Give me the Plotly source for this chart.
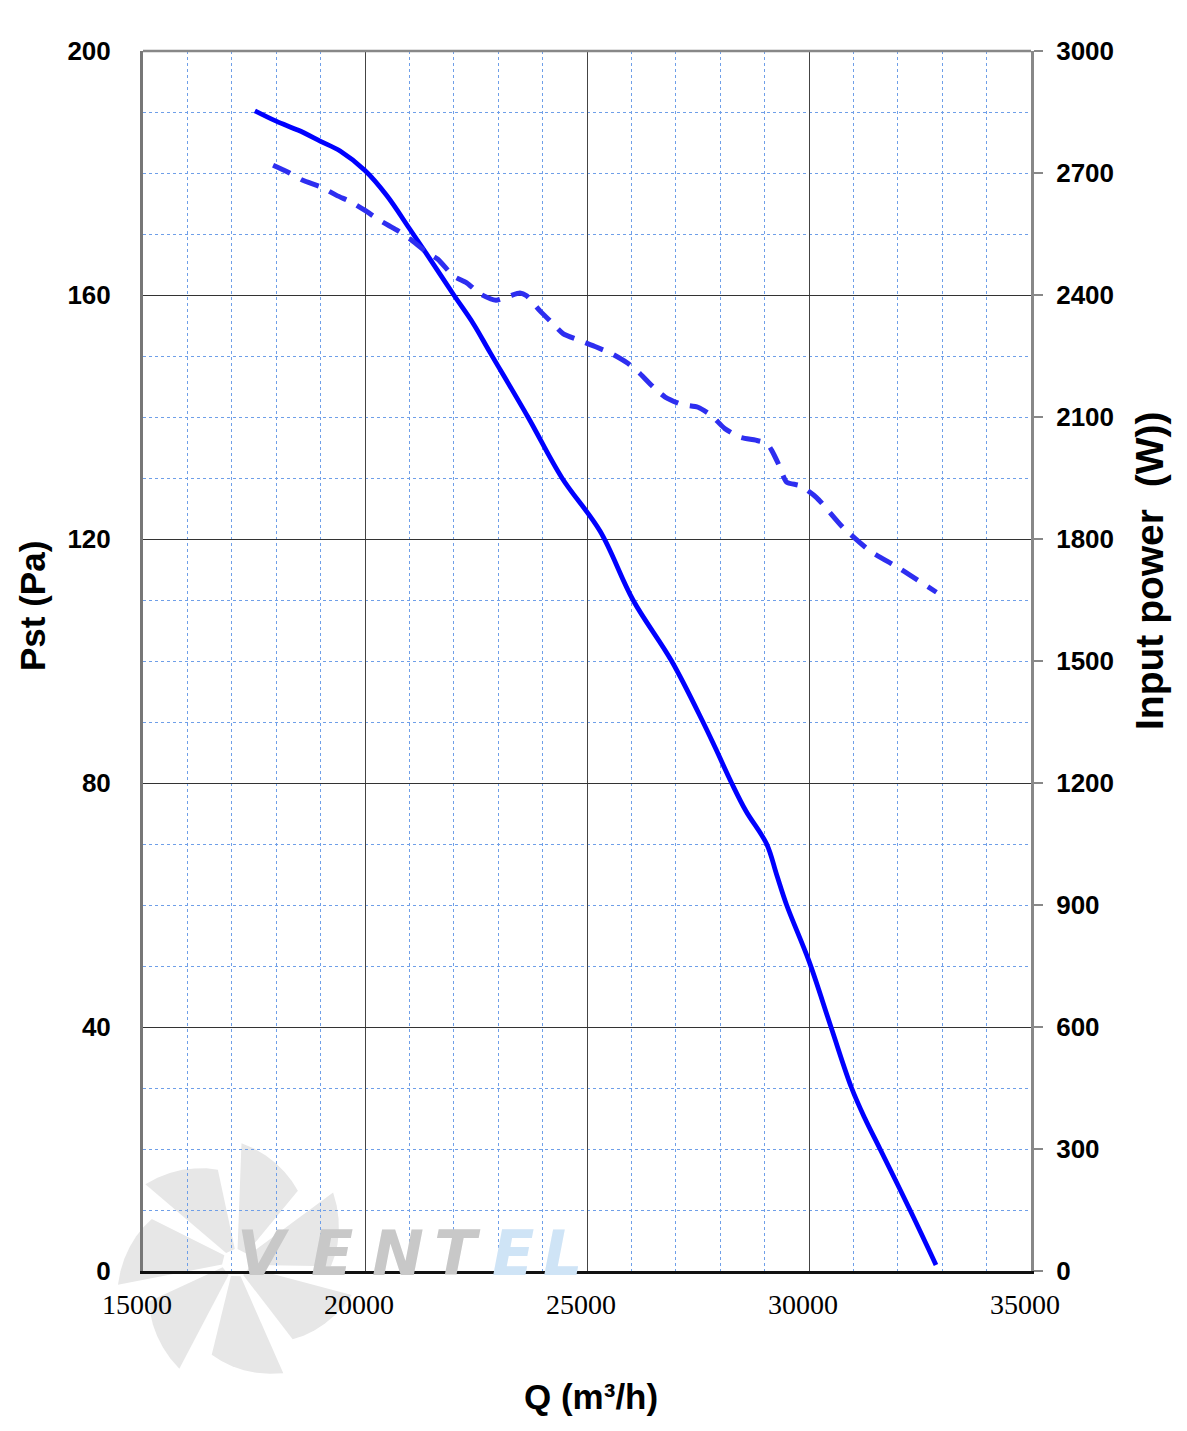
import math
import plotly.graph_objects as go

# ---------------- data ----------------
q_pst = [17520, 18000, 18500, 19000, 19440, 20000, 20490, 21000, 21390, 22000,
         22440, 22815, 23670, 24437, 25293, 26036, 26906, 27612, 27900, 28257,
         28580, 29046, 29270, 29496, 30000, 30495, 30960, 31260, 31600, 32275, 32860]
pst = [190.2, 188.5, 187.0, 185.2, 183.6, 180.4, 176.3, 170.9, 166.7, 160.0,
       155.3, 150.6, 140.0, 130.0, 121.3, 110.0, 100.0, 90.0, 85.6, 80.0,
       75.4, 70.0, 65.0, 60.0, 50.8, 40.0, 30.0, 25.0, 20.0, 10.0, 1.0]

q_pw = [17930, 18270, 18600, 19000, 19360, 19700, 20000, 20340, 20710, 21000,
        21390, 21640, 22000, 22290, 22590, 22950, 23265, 23490, 23640, 23940,
        24200, 24460, 24840, 25210, 25550, 25920, 26190, 26490, 26760, 27130,
        27500, 27800, 28100, 28450, 28800, 29050, 29160, 29310, 29495, 29800,
        30170, 30770, 31370, 32050, 32870]
power = [2719, 2702, 2682, 2666, 2645, 2628, 2608, 2583, 2560, 2539,
         2505, 2488, 2446, 2430, 2403, 2387, 2398, 2405, 2398, 2361,
         2333, 2305, 2288, 2272, 2256, 2232, 2207, 2174, 2149, 2131,
         2124, 2104, 2072, 2050, 2043, 2035, 2018, 1985, 1940, 1931,
         1902, 1828, 1771, 1727, 1669]

x_ticks = [15000, 20000, 25000, 30000, 35000]
y_ticks = [0, 40, 80, 120, 160, 200]
y2_ticks = [0, 300, 600, 900, 1200, 1500, 1800, 2100, 2400, 2700, 3000]

# ---------------- figure ----------------
W, H = 1171, 1415
L, T = 135, 43
PW, PH = 888, 1220
R, B = W - L - PW, H - T - PH

def px2paper(px, py):
    # screen-pixel position in the reference -> paper coordinates
    return (px - 143) / PW, (1270 - py) / PH

fig = go.Figure()

fig.add_trace(go.Scatter(
    x=q_pst, y=pst, mode="lines",
    line=dict(color="#0000FF", width=4.8, shape="spline", smoothing=1.0),
    showlegend=False, hoverinfo="skip"))

fig.add_trace(go.Scatter(
    x=q_pw, y=power, mode="lines", yaxis="y2",
    line=dict(color="#2E2EF0", width=5, dash="19px,12px", shape="spline", smoothing=0.6),
    showlegend=False, hoverinfo="skip"))

# ---------------- watermark (decoration) ----------------
shapes = []
cx, cy = 236, 1262
for k in range(7):
    a0 = 95 + k * 51.4
    pts = [(14, a0)]
    pts += [(95 + 25 * j / 6, a0 + 6 + 38 * j / 6) for j in range(7)]
    pts += [(14, a0 + 40)]
    coords = []
    for r, a in pts:
        px = cx + r * math.cos(math.radians(a))
        py = cy - r * math.sin(math.radians(a))
        coords.append(px2paper(px, py))
    path = "M " + " L ".join(f"{u:.4f},{v:.4f}" for u, v in coords) + " Z"
    shapes.append(dict(type="path", xref="paper", yref="paper", path=path,
                       fillcolor="#E7E7E7", line=dict(width=0), layer="below"))

# top border
shapes.append(dict(type="line", xref="paper", yref="paper", x0=0, x1=1, y0=1, y1=1,
                   line=dict(color="#888888", width=2.5), layer="above"))

annotations = []
wm_letters = [("V", 263, "#C8C8C8"), ("E", 332, "#C8C8C8"), ("N", 398, "#C8C8C8"),
              ("T", 457, "#C8C8C8"), ("E", 513, "#CFE4F6"), ("L", 563, "#CFE4F6")]
for ch, px, col in wm_letters:
    u, v = px2paper(px, 1252)
    annotations.append(dict(text=f"<i>{ch}</i>", x=u, y=v, xref="paper", yref="paper",
                            showarrow=False, xanchor="center", yanchor="middle",
                            font=dict(family="DejaVu Sans", size=62, color=col, weight="bold")))

title_font = dict(family="Liberation Sans", size=35, color="black", weight="bold")
u, v = px2paper(32, 605)
annotations.append(dict(text="Pst (Pa)", x=u, y=v, xref="paper", yref="paper", textangle=-90,
                        showarrow=False, xanchor="center", yanchor="middle", font=title_font))
u, v = px2paper(1149, 570)
annotations.append(dict(text="Input power\u00a0\u00a0(W))", x=u, y=v, xref="paper", yref="paper",
                        textangle=-90, showarrow=False, xanchor="center", yanchor="middle",
                        font=dict(family="Liberation Sans", size=39, color="black", weight="bold")))
u, v = px2paper(591, 1395)
annotations.append(dict(text="Q (m³/h)", x=u, y=v, xref="paper", yref="paper",
                        showarrow=False, xanchor="center", yanchor="middle", font=title_font))

tick_bold = dict(family="Liberation Sans", size=26, color="black", weight="bold")

fig.update_layout(
    width=W, height=H,
    margin=dict(l=L, r=R, t=T, b=B, pad=0),
    paper_bgcolor="white", plot_bgcolor="rgba(0,0,0,0)",
    showlegend=False,
    shapes=shapes, annotations=annotations,
    xaxis=dict(
        range=[15000, 35000], tickvals=x_ticks, ticktext=[str(t) for t in x_ticks],
        showgrid=True, gridcolor="#444444", gridwidth=1,
        minor=dict(dtick=1000, showgrid=True, gridcolor="#6F9FE8", griddash="dot", gridwidth=1),
        showline=True, linecolor="#111111", linewidth=2.5, zeroline=False,
        ticks="", ticklabelstandoff=7, ticklabelshift=-6,
        tickfont=dict(family="Liberation Serif", size=28, color="black"),
    ),
    yaxis=dict(
        range=[0, 200], tickvals=y_ticks, ticktext=[str(t) for t in y_ticks],
        showgrid=True, gridcolor="#333333", gridwidth=1,
        minor=dict(dtick=10, showgrid=True, gridcolor="#6F9FE8", griddash="dot", gridwidth=1),
        showline=True, linecolor="#777777", linewidth=3, zeroline=False,
        ticks="", ticklabelstandoff=24, tickfont=tick_bold,
    ),
    yaxis2=dict(
        range=[0, 3000], tickvals=y2_ticks, ticktext=[str(t) for t in y2_ticks],
        overlaying="y", side="right", anchor="x", showgrid=False, zeroline=False,
        showline=True, linecolor="#888888", linewidth=3,
        ticks="outside", ticklen=9, tickwidth=2, tickcolor="#888888",
        ticklabelstandoff=8, tickfont=tick_bold,
    ),
)

fig.write_html("out.html")
